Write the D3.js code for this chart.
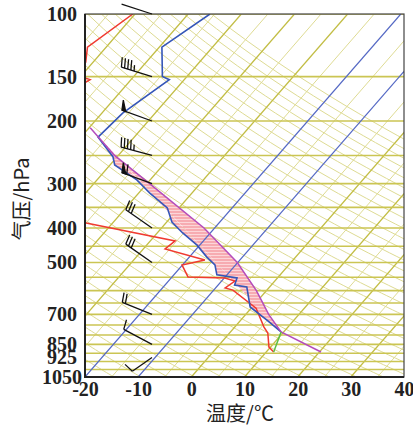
<!DOCTYPE html>
<html>
<head>
<meta charset="utf-8">
<script src="https://cdn.jsdelivr.net/npm/d3@7"></script>
<style>
  body { margin: 0; background: #fff; }
</style>
</head>
<body>
<svg id="chart" width="413" height="429"></svg>
<script>
// ---- data ----
const pTicks = [100, 150, 200, 300, 400, 500, 700, 850, 925, 1050];
const tTicks = [-20, -10, 0, 10, 20, 30, 40];
const isobars = d3.range(100, 1051, 50);
const isotherms = d3.range(-80, 41, 5);
const blueIsotherms = [-20, -10];
const thetas = d3.range(250, 421, 5); // dry adiabats, K

// [pressure hPa, temperature C]
const tempProfile = [
  [100, -55.9], [124, -59.5], [150, -54.6], [153, -52.8], [190, -56.1],
  [222, -56.8], [252, -50.8], [266, -49.1], [293, -42.5], [319, -37.9],
  [351, -32.2], [385, -29.0], [413, -25.2], [447, -20.5], [483, -16.7],
  [508, -13.9], [542, -11.9], [553, -7.6], [579, -6.9], [586, -4.3],
  [667, -0.4], [726, 4.9], [784, 9.5]
];
const dewProfile = [
  [100, -70.4], [124, -73.5], [136.5, -71.4], [145, -78], [150, -70],
  [153, -67.7], [158, -68.5], [170, -85], [300, -90], [370, -55],
  [387, -45], [435, -25.3], [458, -25.9], [492, -16.6], [508, -20.1],
  [549, -17.0], [553, -9.9], [564, -7.5], [590, -8.2], [598, -6.4],
  [672, 0.9], [760, 5.5], [790, 7.2], [865, 9.7], [893, 11.4]
];
const parcelPath = [
  [893, 20.3], [784, 9.5], [700, 4.3], [600, -1.9], [500, -10.1],
  [400, -22.0], [300, -39.5], [250, -50.7], [209, -59.8]
];
const liftLine = [[893, 11.4], [784, 9.5]];

const windP = [100, 150, 200, 250, 300, 400, 500, 700, 850, 925];
const windDir = [288, 287, 290, 285, 290, 305, 305, 292, 298, 235];
const windSpd = [0, 45, 50, 45, 60, 30, 30, 20, 10, 10];

// ---- layout ----
const pl = 85, pr = 404, pt = 14, pb = 377;
const skew = 0.87;

const svg = d3.select("#chart");
const y = d3.scaleLog().domain([100, 1050]).range([pt, pb]);
const xb = d3.scaleLinear().domain([-20, 40]).range([pl, pr]);
const X = (t, p) => xb(t) + (pb - y(p)) * skew;
const line = d3.line().x(d => X(d[1], d[0])).y(d => y(d[0]));

const defs = svg.append("defs");
defs.append("clipPath").attr("id", "clip")
  .append("rect")
  .attr("x", pl).attr("y", pt)
  .attr("width", pr - pl).attr("height", pb - pt);
const pat = defs.append("pattern").attr("id", "hatch")
  .attr("patternUnits", "userSpaceOnUse")
  .attr("width", 6).attr("height", 3);
pat.append("rect").attr("width", 6).attr("height", 3).attr("fill", "#f7abb1");
pat.append("rect").attr("width", 6).attr("height", 1).attr("fill", "#fcd6d9");

const plot = svg.append("g").attr("clip-path", "url(#clip)");

// dry adiabats
const adiP = d3.range(100, 1051, 10);
plot.append("g")
  .attr("fill", "none")
  .attr("stroke", "#dedb93")
  .attr("stroke-width", 1)
  .selectAll("path")
  .data(thetas)
  .join("path")
  .attr("d", th => line(adiP.map(p => [p, th * Math.pow(p / 1000, 0.2857) - 273.15])));

// isotherms
plot.append("g")
  .attr("fill", "none")
  .selectAll("path")
  .data(isotherms.filter(t => !blueIsotherms.includes(t)))
  .join("path")
  .attr("stroke", t => t % 10 === 0 ? "#c2bd44" : "#dedb93")
  .attr("stroke-width", t => t % 10 === 0 ? 1.3 : 1)
  .attr("d", t => line([[1050, t], [100, t]]));

// isobars
plot.append("g")
  .attr("stroke", "#cbc553")
  .attr("stroke-width", 1.6)
  .selectAll("line")
  .data(isobars)
  .join("line")
  .attr("x1", pl).attr("x2", pr)
  .attr("y1", d => y(d)).attr("y2", d => y(d));

// CAPE area
const area = parcelPath.slice(1).concat(tempProfile.filter(d => d[0] >= 222).reverse());
plot.append("path")
  .attr("d", line(area) + "Z")
  .attr("fill", "url(#hatch)");

// blue isotherms
plot.append("g")
  .attr("fill", "none")
  .attr("stroke", "#5468c4")
  .attr("stroke-width", 1.2)
  .selectAll("path")
  .data(blueIsotherms)
  .join("path")
  .attr("d", t => line([[1050, t], [100, t]]));

// profiles
plot.append("path").attr("d", line(dewProfile))
  .attr("fill", "none").attr("stroke", "#f03a30").attr("stroke-width", 1.5);
plot.append("path").attr("d", line(tempProfile))
  .attr("fill", "none").attr("stroke", "#3556b8").attr("stroke-width", 1.6);
plot.append("path").attr("d", line(parcelPath))
  .attr("fill", "none").attr("stroke", "#b44cbc").attr("stroke-width", 1.5);
plot.append("path").attr("d", line(liftLine))
  .attr("fill", "none").attr("stroke", "#5cbf45").attr("stroke-width", 1.5);

// frame
svg.append("rect")
  .attr("x", pl).attr("y", pt)
  .attr("width", pr - pl).attr("height", pb - pt)
  .attr("fill", "none").attr("stroke", "#444").attr("stroke-width", 1.2);
svg.append("path")
  .attr("d", `M${pl},${pt}V${pb}H${pr}`)
  .attr("fill", "none").attr("stroke", "#222").attr("stroke-width", 2);

// wind barbs
const barbX = 152, staffLen = 32;
const barbs = svg.append("g").attr("stroke", "#111").attr("stroke-width", 1.3).attr("fill", "#111");
windP.forEach((p, i) => {
  const d = windDir[i] * Math.PI / 180;
  const ux = Math.sin(d), uy = -Math.cos(d);
  const x0 = barbX, y0 = y(p);
  const len = p > 900 ? 24 : staffLen;
  const tx = x0 + ux * len, ty = y0 + uy * len;
  barbs.append("line").attr("x1", x0).attr("y1", y0).attr("x2", tx).attr("y2", ty);
  const fd = d + 78 * Math.PI / 180;
  const fx = Math.sin(fd), fy = -Math.cos(fd);
  let s = windSpd[i], pos = 0;
  while (s >= 50) {
    const ax = tx - ux * pos, ay = ty - uy * pos;
    const bx = tx - ux * (pos + 4), by = ty - uy * (pos + 4);
    barbs.append("path")
      .attr("d", `M${ax},${ay}L${ax + fx * 10},${ay + fy * 10}L${bx},${by}Z`);
    pos += 5; s -= 50;
  }
  while (s >= 10) {
    const ax = tx - ux * pos, ay = ty - uy * pos;
    barbs.append("line").attr("x1", ax).attr("y1", ay)
      .attr("x2", ax + fx * 10).attr("y2", ay + fy * 10);
    pos += 3.3; s -= 10;
  }
  if (s >= 5) {
    if (pos === 0) pos = 3.3;
    const ax = tx - ux * pos, ay = ty - uy * pos;
    barbs.append("line").attr("x1", ax).attr("y1", ay)
      .attr("x2", ax + fx * 6).attr("y2", ay + fy * 6);
  }
});

// axes
const yAxis = svg.append("g")
  .attr("transform", `translate(${pl},0)`)
  .call(d3.axisLeft(y).tickValues(pTicks).tickSize(0).tickPadding(0).tickFormat(d3.format("d")));
const xAxis = svg.append("g")
  .attr("transform", `translate(0,${pb})`)
  .call(d3.axisBottom(xb).tickValues(tTicks).tickSize(0).tickPadding(5).tickFormat(d3.format("d")));
[yAxis, xAxis].forEach(a => {
  a.select(".domain").remove();
  a.selectAll("text")
    .attr("fill", "#222")
    .style("font-family", "'Liberation Serif', serif")
    .style("font-weight", "bold")
    .style("font-size", "20px");
});
yAxis.selectAll("text").attr("text-anchor", "middle").attr("x", 62 - pl);
xAxis.selectAll("text").text(d => d < 0 ? "-" + Math.abs(d) : d);

svg.append("text")
  .attr("x", 240).attr("y", 421)
  .attr("text-anchor", "middle")
  .style("font-family", "'Noto Sans CJK SC', 'Liberation Serif', serif")
  .style("font-size", "20px")
  .attr("fill", "#222")
  .text("温度/℃");

svg.append("text")
  .attr("transform", "translate(29,199) rotate(-90)")
  .attr("text-anchor", "middle")
  .style("font-family", "'Noto Sans CJK SC', 'Liberation Serif', serif")
  .style("font-size", "20px")
  .attr("fill", "#222")
  .text("气压/hPa");
</script>
</body>
</html>
